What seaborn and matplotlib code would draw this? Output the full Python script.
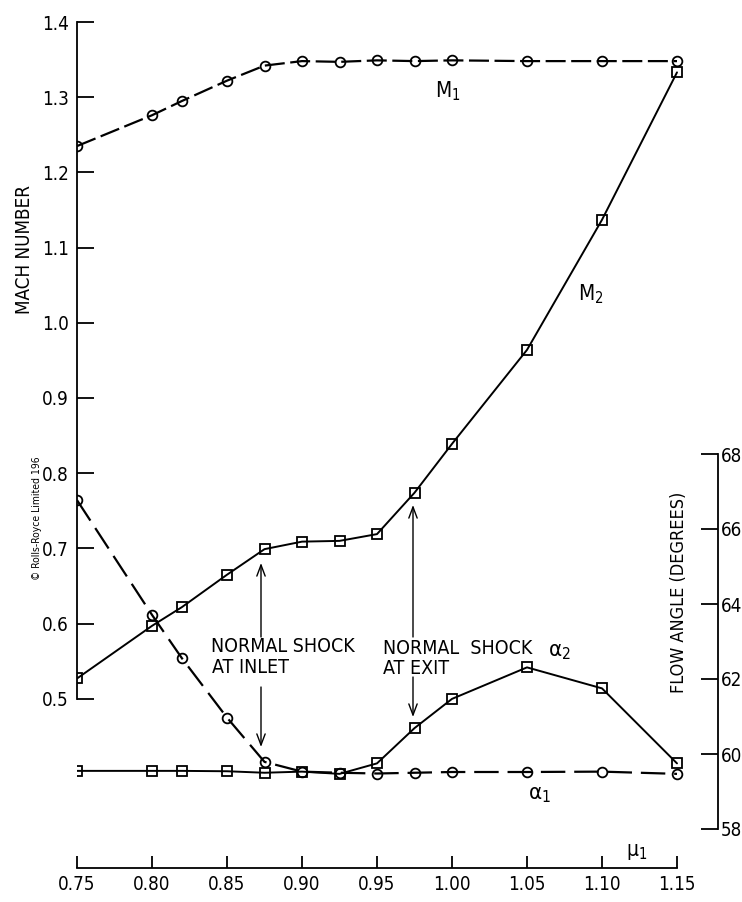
import matplotlib
matplotlib.use("Agg")
import matplotlib.pyplot as plt
import seaborn as sns
import pandas as pd

# ---------------- data ----------------
mu1 = [0.75, 0.80, 0.82, 0.85, 0.875, 0.90, 0.925, 0.95, 0.975, 1.00, 1.05, 1.10, 1.15]
mach_m1 = [1.235, 1.276, 1.295, 1.322, 1.342, 1.348, 1.347, 1.349, 1.348, 1.349, 1.348, 1.348, 1.348]
mach_m2 = [0.527, 0.597, 0.622, 0.665, 0.699, 0.709, 0.710, 0.719, 0.774, 0.839, 0.964, 1.137, 1.333]
alpha1 = [66.77, 63.71, 62.55, 60.97, 59.79, 59.53, 59.50, 59.48, 59.50, 59.52, 59.52, 59.53, 59.47]
alpha2 = [59.55, 59.55, 59.55, 59.54, 59.50, 59.53, 59.47, 59.75, 60.69, 61.47, 62.31, 61.75, 59.75]

mach_ticks = [0.5, 0.6, 0.7, 0.8, 0.9, 1.0, 1.1, 1.2, 1.3, 1.4]
angle_ticks = [58, 60, 62, 64, 66, 68]
mu_ticks = [0.75, 0.80, 0.85, 0.90, 0.95, 1.00, 1.05, 1.10, 1.15]

df = pd.DataFrame({"mu1": mu1, "M1": mach_m1, "M2": mach_m2, "a1": alpha1, "a2": alpha2})

# ---------------- style ----------------
sns.set_style("white")
plt.rcParams["font.family"] = ["DejaVu Sans"]
plt.rcParams["font.stretch"] = "condensed"
plt.rcParams["mathtext.default"] = "regular"
for k in ("text.color", "axes.labelcolor", "xtick.color", "ytick.color", "xtick.labelcolor", "ytick.labelcolor"):
    plt.rcParams[k] = "black"

W, H = 742, 902
fig = plt.figure(figsize=(W / 100, H / 100), dpi=100)
L, R, T, B = 77, 718, 22, 868
ax = fig.add_axes([L / W, 1 - B / H, (R - L) / W, (B - T) / H])
ax.set_xlim(0.75, 1.15 + (R - 677) / 1500)
ax.set_ylim(0.275, 1.4)
ax2 = ax.twinx()
ax2.set_ylim(68 - (B - 454) * 2 / 75, 68 + (454 - T) * 2 / 75)

mk = dict(markerfacecolor="none", markeredgecolor="black", markeredgewidth=1.3)

sns.lineplot(data=df, x="mu1", y="M1", ax=ax, color="black", lw=1.6, marker="o", markersize=7, **mk)
ax.lines[-1].set_dashes((9, 2.5))
sns.lineplot(data=df, x="mu1", y="M2", ax=ax, color="black", lw=1.4, marker="s", markersize=6.5, **mk)
sns.lineplot(data=df, x="mu1", y="a1", ax=ax2, color="black", lw=1.6, marker="o", markersize=7, **mk)
ax2.lines[-1].set_dashes((11, 4))
sns.lineplot(data=df, x="mu1", y="a2", ax=ax2, color="black", lw=1.4, marker="s", markersize=6.5, **mk)

# ---------------- axes / spines ----------------
for a in (ax, ax2):
    a.set_xlabel("")
    a.set_ylabel("")
    a.spines["top"].set_visible(False)
    for s in a.spines.values():
        s.set_linewidth(1.3)
        s.set_color("black")

ax.spines["right"].set_visible(False)
ax.spines["left"].set_bounds(0.5, 1.4)
ax.spines["bottom"].set_bounds(0.75, 1.15)
ax2.spines["left"].set_visible(False)
ax2.spines["bottom"].set_visible(False)
ax2.spines["right"].set_bounds(58, 68)

ax.set_yticks(mach_ticks)
ax.set_yticklabels([f"{v:.1f}" for v in mach_ticks])
ax.set_xticks(mu_ticks)
ax.set_xticklabels([f"{v:.2f}" for v in mu_ticks])
ax2.set_yticks(angle_ticks)
ax2.set_yticklabels([str(v) for v in angle_ticks])

ax.tick_params(axis="y", direction="in", length=12, width=1.3, pad=6, labelsize=13.5, left=True,
               color="black", labelcolor="black")
ax.tick_params(axis="x", direction="in", length=9, width=1.3, pad=5, labelsize=13.5, bottom=True,
               color="black", labelcolor="black")
ax2.tick_params(axis="y", direction="in", length=12, width=1.3, pad=2, labelsize=13.5, right=True,
                color="black", labelcolor="black")

# ---------------- text ----------------
fig.text(25 / W, 1 - 250 / H, "MACH NUMBER", rotation=90, ha="center", va="center", fontsize=13.5)
fig.text(679 / W, 1 - 592 / H, "FLOW ANGLE (DEGREES)", rotation=90, ha="center", va="center", fontsize=13)
fig.text(37 / W, 1 - 518 / H, "© Rolls-Royce Limited 196", rotation=90, ha="center", va="center", fontsize=7.5)

def px(x, y):
    return 0.75 + (x - 77) / 1500, 1.4 - (y - 22) / 752

ts = 14
ax.text(*px(211, 647), "NORMAL SHOCK", ha="left", va="center", fontsize=ts)
ax.text(*px(212, 667), "AT INLET", ha="left", va="center", fontsize=ts)
ax.text(*px(383, 648), "NORMAL  SHOCK", ha="left", va="center", fontsize=ts)
ax.text(*px(383, 668), "AT EXIT", ha="left", va="center", fontsize=ts)

ax.text(*px(435, 97), "M$_1$", ha="left", va="baseline", fontsize=15)
ax.text(*px(578, 300), "M$_2$", ha="left", va="baseline", fontsize=15)
ax.text(*px(548, 652), r"$\alpha_2$", ha="left", va="center", fontsize=16)
ax.text(*px(528, 795), r"$\alpha_1$", ha="left", va="center", fontsize=16)
ax.text(*px(626, 852), r"$\mu_1$", ha="left", va="center", fontsize=15)

arr = dict(arrowstyle="->,head_length=0.8,head_width=0.3", color="black", lw=1.0, shrinkA=0, shrinkB=0)
for x0, y0, y1 in [(261, 637, 563), (261, 687, 747), (413, 637, 505), (413, 677, 717)]:
    ax.annotate("", xy=px(x0, y1), xytext=px(x0, y0), arrowprops=arr)

fig.savefig("out.png", dpi=100, facecolor="white")
